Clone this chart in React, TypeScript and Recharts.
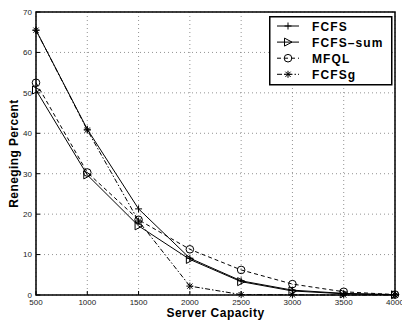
import {
  LineChart,
  Line,
  XAxis,
  YAxis,
  CartesianGrid,
  ReferenceArea,
  Legend,
  Label,
} from 'recharts';

const capacity = [500, 1000, 1500, 2000, 2500, 3000, 3500, 4000];
const fcfs = [65.5, 41.0, 21.3, 9.1, 3.5, 1.2, 0.4, 0.1];
const fcfsSum = [50.7, 29.7, 17.1, 8.8, 3.3, 1.0, 0.3, 0.05];
const mfql = [52.5, 30.3, 18.6, 11.3, 6.2, 2.7, 0.8, 0.1];
const fcfsg = [65.5, 40.8, 18.3, 2.2, 0.1, 0.05, 0, 0];

const xTicks = [500, 1000, 1500, 2000, 2500, 3000, 3500, 4000];
const yTicks = [0, 10, 20, 30, 40, 50, 60, 70];

const data = capacity.map((c, i) => ({
  capacity: c,
  fcfs: fcfs[i],
  fcfsSum: fcfsSum[i],
  mfql: mfql[i],
  fcfsg: fcfsg[i],
}));

type MarkKind = 'plus' | 'tri' | 'circle' | 'star';

function Mark({ kind, cx, cy }: { kind: MarkKind; cx: number; cy: number }) {
  const s = 3.5;
  if (kind === 'plus') {
    return (
      <g stroke="#000" strokeWidth={1}>
        <line x1={cx - s} y1={cy} x2={cx + s} y2={cy} />
        <line x1={cx} y1={cy - s} x2={cx} y2={cy + s} />
      </g>
    );
  }
  if (kind === 'tri') {
    return (
      <polygon
        points={`${cx - 3.5},${cy - 4} ${cx - 3.5},${cy + 4} ${cx + 4},${cy}`}
        fill="none"
        stroke="#000"
        strokeWidth={1}
      />
    );
  }
  if (kind === 'circle') {
    return <circle cx={cx} cy={cy} r={3.8} fill="none" stroke="#000" strokeWidth={1} />;
  }
  const d = 2.6;
  return (
    <g stroke="#000" strokeWidth={1}>
      <line x1={cx - s} y1={cy} x2={cx + s} y2={cy} />
      <line x1={cx} y1={cy - s} x2={cx} y2={cy + s} />
      <line x1={cx - d} y1={cy - d} x2={cx + d} y2={cy + d} />
      <line x1={cx - d} y1={cy + d} x2={cx + d} y2={cy - d} />
    </g>
  );
}

const SERIES: { key: string; name: string; dash?: string; mark: MarkKind }[] = [
  { key: 'fcfs', name: 'FCFS', mark: 'plus' },
  { key: 'fcfsSum', name: 'FCFS\u2013sum', mark: 'tri' },
  { key: 'mfql', name: 'MFQL', dash: '4 3', mark: 'circle' },
  { key: 'fcfsg', name: 'FCFSg', dash: '5 2 1.5 2', mark: 'star' },
];

const FONT = 'Liberation Sans, Arial, Helvetica, sans-serif';

function LegendBox() {
  return (
    <svg width={124} height={70} style={{ display: 'block' }}>
      <rect x={0.75} y={0.75} width={122} height={68} fill="#fff" stroke="#000" strokeWidth={1.5} />
      {SERIES.map((s, i) => {
        const y = 10 + i * 16.1;
        return (
          <g key={s.key}>
            <line x1={8} y1={y} x2={30} y2={y} stroke="#000" strokeWidth={1} strokeDasharray={s.dash} />
            <Mark kind={s.mark} cx={19} cy={y} />
            <text
              x={43}
              y={y + 4.5}
              fontFamily={FONT}
              fontWeight="bold"
              fontSize={12}
              letterSpacing={1.1}
              fill="#000"
            >
              {s.name}
            </text>
          </g>
        );
      })}
    </svg>
  );
}

const tickStyle = { fontSize: 8, fill: '#222', fontFamily: FONT };

export default function App() {
  return (
    <div style={{ position: 'absolute', left: 0, top: 0, background: '#fff' }}>
      <LineChart width={402} height={322} data={data} margin={{ top: 12, right: 7, left: 0, bottom: 0 }}>
        <CartesianGrid stroke="#777" strokeDasharray="1 3" strokeWidth={0.8} />
        <XAxis
          dataKey="capacity"
          type="number"
          domain={[500, 4000]}
          ticks={xTicks}
          height={27}
          tick={tickStyle}
          tickSize={-4}
          tickMargin={8}
          tickLine={{ stroke: '#000' }}
          axisLine={false}
          interval={0}
        >
          <Label
            content={({ viewBox }: any) => (
              <text
                x={viewBox.x + viewBox.width / 2}
                y={317}
                textAnchor="middle"
                fontFamily={FONT}
                fontWeight="bold"
                fontSize={12}
                letterSpacing={0.5}
                fill="#000"
              >
                Server Capacity
              </text>
            )}
          />
        </XAxis>
        <YAxis
          type="number"
          domain={[0, 70]}
          ticks={yTicks}
          width={36}
          tick={tickStyle}
          tickSize={-4}
          tickMargin={8}
          tickLine={{ stroke: '#000' }}
          axisLine={false}
          interval={0}
        >
          <Label
            content={({ viewBox }: any) => {
              const cy = viewBox.y + viewBox.height / 2;
              return (
                <text
                  x={18}
                  y={cy}
                  transform={`rotate(-90, 18, ${cy})`}
                  textAnchor="middle"
                  fontFamily={FONT}
                  fontWeight="bold"
                  fontSize={12}
                  letterSpacing={0.4}
                  fill="#000"
                >
                  Reneging Percent
                </text>
              );
            }}
          />
        </YAxis>
        <ReferenceArea x1={500} x2={4000} y1={0} y2={70} fill="none" stroke="#000" strokeWidth={1.5} />
        {SERIES.map((s) => (
          <Line
            key={s.key}
            dataKey={s.key}
            name={s.name}
            type="linear"
            stroke="#000"
            strokeWidth={1}
            strokeDasharray={s.dash}
            isAnimationActive={false}
            dot={(p: any) => <Mark key={`${s.key}-${p.index}`} kind={s.mark} cx={p.cx} cy={p.cy} />}
          />
        ))}
        <Legend
          layout="vertical"
          align="center"
          verticalAlign="middle"
          content={() => <LegendBox />}
          wrapperStyle={{ left: 269, top: 16, width: 124, height: 70 }}
        />
      </LineChart>
    </div>
  );
}
